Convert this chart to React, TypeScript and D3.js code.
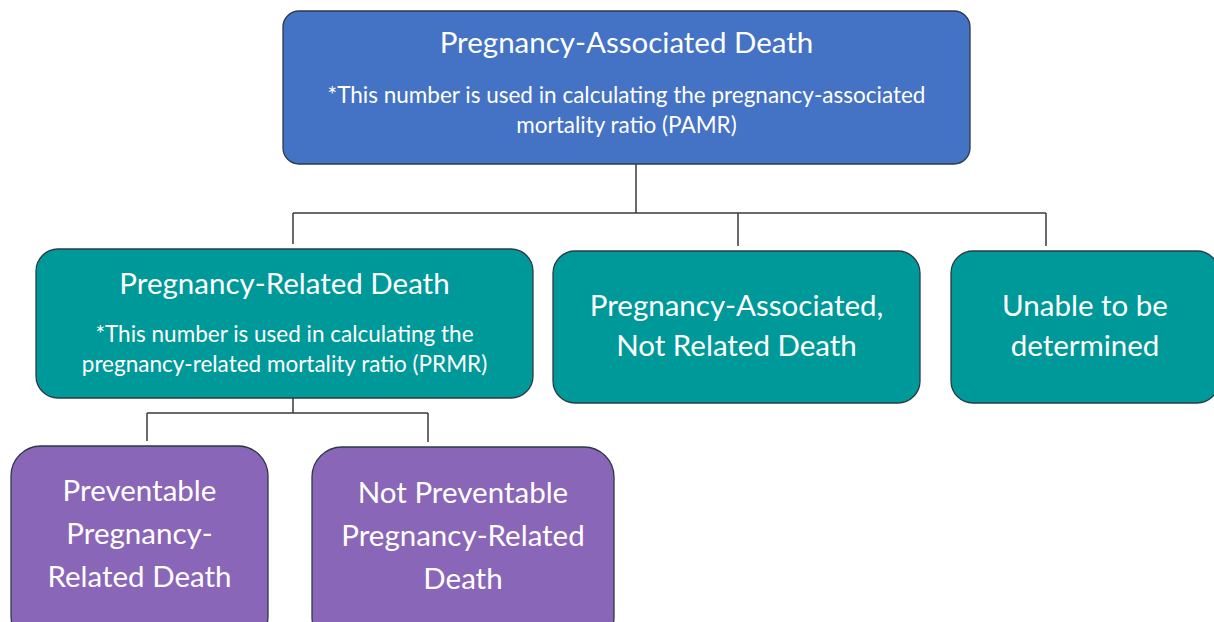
import React, { useEffect, useRef } from 'react';
import * as d3 from 'd3';

// Tree structure and labels
const nodeIds = ['pad', 'prd', 'panr', 'utd', 'prev', 'notprev'];
const nodeParents = ['', 'pad', 'pad', 'pad', 'prd', 'prd'];
const nodeTitles = [
  ['Pregnancy-Associated Death'],
  ['Pregnancy-Related Death'],
  ['Pregnancy-Associated,', 'Not Related Death'],
  ['Unable to be', 'determined'],
  ['Preventable', 'Pregnancy-', 'Related Death'],
  ['Not Preventable', 'Pregnancy-Related', 'Death'],
];
const nodeNotes = [
  ['*This number is used in calculating the pregnancy-associated', 'mortality ratio (PAMR)'],
  ['*This number is used in calculating the', 'pregnancy-related mortality ratio (PRMR)'],
  [],
  [],
  [],
  [],
];

// Layout of the boxes (x, y, w, h, corner radius, connector x, first baselines)
const layout = {
  pad: { x: 283, y: 11, w: 687, h: 153, r: 16, ax: 636, ty: 53, ny: 103 },
  prd: { x: 36, y: 249, w: 497, h: 149, r: 22, ax: 293, ty: 294, ny: 342 },
  panr: { x: 553, y: 251, w: 367, h: 152, r: 22, ax: 738, ty: 316, ny: 0 },
  utd: { x: 951, y: 251, w: 268, h: 152, r: 22, ax: 1046, ty: 316, ny: 0 },
  prev: { x: 11, y: 446, w: 257, h: 200, r: 30, ax: 147, ty: 501, ny: 0 },
  notprev: { x: 312, y: 447, w: 302, h: 200, r: 30, ax: 428, ty: 503, ny: 0 },
};
const tierColors = ['#4472C4', '#009999', '#8A66B8'];
const busY = { pad: 213, prd: 413 };

const FlowChart = () => {
  const ref = useRef(null);

  useEffect(() => {
    const el = ref.current;
    if (!el) return;
    d3.select(el).selectAll('*').remove();

    const table = nodeIds.map((id, i) => ({
      id, parent: nodeParents[i], titles: nodeTitles[i], notes: nodeNotes[i],
    }));
    const root = d3.stratify().id(d => d.id).parentId(d => d.parent || null)(table);

    const svg = d3.select(el)
      .append('svg')
      .attr('width', 1214)
      .attr('height', 622)
      .style('position', 'absolute')
      .style('left', 0)
      .style('top', 0)
      .style('font-family', 'Lato, "Open Sans", sans-serif');

    // --- connectors ---
    const lines = svg.append('g')
      .attr('stroke', '#3a3a3a')
      .attr('stroke-width', 1.5)
      .attr('fill', 'none');

    root.descendants().filter(n => n.children).forEach(n => {
      const p = layout[n.id];
      const by = busY[n.id];
      const xs = n.children.map(c => layout[c.id].ax);
      lines.append('line')
        .attr('x1', p.ax).attr('x2', p.ax)
        .attr('y1', p.y + p.h).attr('y2', by);
      lines.append('line')
        .attr('x1', d3.min(xs)).attr('x2', d3.max(xs))
        .attr('y1', by).attr('y2', by);
      n.children.forEach(c => {
        const b = layout[c.id];
        lines.append('line')
          .attr('x1', b.ax).attr('x2', b.ax)
          .attr('y1', by).attr('y2', b.y - 5);
      });
    });

    // --- boxes ---
    const node = svg.selectAll('.node')
      .data(root.descendants())
      .enter().append('g')
      .attr('class', 'node');

    node.append('rect')
      .attr('x', d => layout[d.id].x)
      .attr('y', d => layout[d.id].y)
      .attr('width', d => layout[d.id].w)
      .attr('height', d => layout[d.id].h)
      .attr('rx', d => layout[d.id].r)
      .attr('fill', d => tierColors[d.depth])
      .attr('stroke', '#2c3a48')
      .attr('stroke-width', 1.3);

    node.each(function (d) {
      const g = d3.select(this);
      const b = layout[d.id];
      const cx = b.x + b.w / 2;
      const gap = d.depth === 2 ? 43 : 40;
      d.data.titles.forEach((t, i) => {
        g.append('text')
          .attr('x', cx)
          .attr('y', b.ty + i * gap)
          .attr('text-anchor', 'middle')
          .attr('fill', '#fff')
          .style('font-size', '29.5px')
          .text(t);
      });
      d.data.notes.forEach((t, i) => {
        g.append('text')
          .attr('x', cx)
          .attr('y', b.ny + i * 30)
          .attr('text-anchor', 'middle')
          .attr('fill', '#fff')
          .style('font-size', '22.5px')
          .text(t);
      });
    });
  }, []);

  return <div ref={ref} style={{ width: 1214, height: 622 }} />;
};

export default function App() {
  return <FlowChart />;
}
